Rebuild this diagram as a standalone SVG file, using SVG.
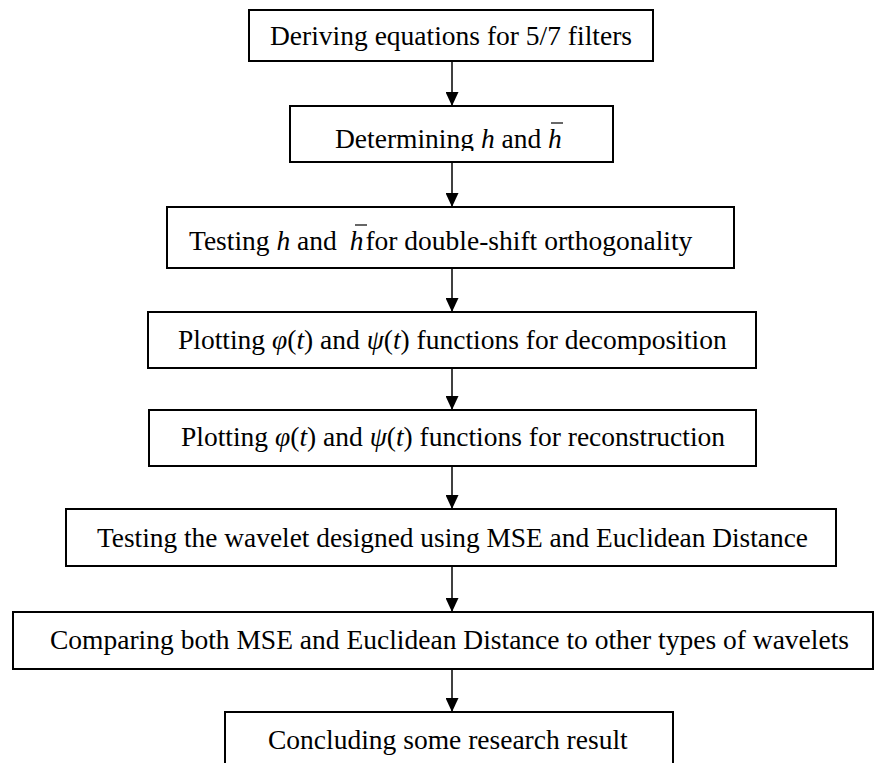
<svg xmlns="http://www.w3.org/2000/svg" width="874" height="763" viewBox="0 0 874 763">
  <style>
    .box { fill: #ffffff; stroke: #000000; stroke-width: 2; }
    .t { font-family: "Liberation Serif", "Times New Roman", serif; font-size: 27.5px; fill: #000000; }
    .i { font-style: italic; }
    .conn { stroke: #000000; stroke-width: 1.5; fill: none; marker-end: url(#arrow); }
    .bar { stroke: #000000; stroke-width: 1.2; }
  </style>
  <defs>
    <marker id="arrow" markerUnits="userSpaceOnUse" markerWidth="14" markerHeight="13" refX="14" refY="6.5" orient="auto">
      <path d="M0,0 L14,6.5 L0,13 Z" fill="#000000"/>
    </marker>
    <clipPath id="clip2">
      <rect x="290" y="106" width="323" height="45"/>
    </clipPath>
  </defs>
  <rect width="874" height="763" fill="#ffffff"/>

  <g id="connectors">
    <line class="conn" x1="452" y1="61" x2="452" y2="106"/>
    <line class="conn" x1="452" y1="162" x2="452" y2="207"/>
    <line class="conn" x1="452" y1="268" x2="452" y2="312"/>
    <line class="conn" x1="452" y1="368" x2="452" y2="410"/>
    <line class="conn" x1="452" y1="466" x2="452" y2="509"/>
    <line class="conn" x1="452" y1="566" x2="452" y2="612"/>
    <line class="conn" x1="452" y1="669" x2="452" y2="712"/>
  </g>

  <g id="n1">
    <rect class="box" x="249" y="10" width="404" height="51"/>
    <text class="t" x="270" y="45">Deriving equations for 5/7 filters</text>
  </g>

  <g id="n2">
    <rect class="box" x="290" y="106" width="323" height="56"/>
    <text class="t" x="335" y="148" clip-path="url(#clip2)">Determining <tspan class="i">h</tspan> and <tspan class="i">h</tspan></text>
    <line class="bar" x1="551" y1="123" x2="563" y2="123"/>
  </g>

  <g id="n3">
    <rect class="box" x="167" y="207" width="567" height="61"/>
    <text class="t" x="189" y="250">Testing <tspan class="i">h</tspan> and <tspan class="i" dx="6">h</tspan><tspan dx="2">for double-shift orthogonality</tspan></text>
    <line class="bar" x1="355" y1="225" x2="367" y2="225"/>
  </g>

  <g id="n4">
    <rect class="box" x="148" y="312" width="608" height="56"/>
    <text class="t" x="178" y="349">Plotting <tspan class="i">φ</tspan>(<tspan class="i">t</tspan>) and <tspan class="i">ψ</tspan>(<tspan class="i">t</tspan>) functions for decomposition</text>
  </g>

  <g id="n5">
    <rect class="box" x="149" y="410" width="607" height="56"/>
    <text class="t" x="181" y="446">Plotting <tspan class="i">φ</tspan>(<tspan class="i">t</tspan>) and <tspan class="i">ψ</tspan>(<tspan class="i">t</tspan>) functions for reconstruction</text>
  </g>

  <g id="n6">
    <rect class="box" x="66" y="509" width="770" height="57"/>
    <text class="t" x="97" y="547" textLength="711" lengthAdjust="spacingAndGlyphs">Testing the wavelet designed using MSE and Euclidean Distance</text>
  </g>

  <g id="n7">
    <rect class="box" x="13" y="612" width="860" height="57"/>
    <text class="t" x="50" y="649" textLength="799" lengthAdjust="spacingAndGlyphs">Comparing both MSE and Euclidean Distance to other types of wavelets</text>
  </g>

  <g id="n8">
    <rect class="box" x="225" y="712" width="448" height="70"/>
    <text class="t" x="268" y="749">Concluding some research result</text>
  </g>
</svg>
